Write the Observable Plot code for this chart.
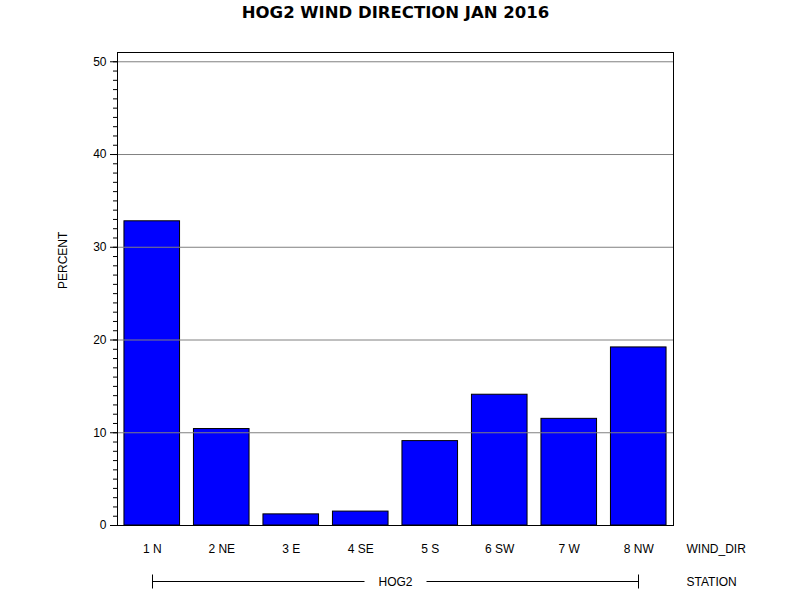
<!DOCTYPE html>
<html>
<head>
<meta charset="utf-8">
<script src="https://cdn.jsdelivr.net/npm/d3@7"></script>
<script src="https://cdn.jsdelivr.net/npm/@observablehq/plot@0.6"></script>
<style>
  html, body { margin: 0; padding: 0; background: #fff; }
  #chart { width: 800px; height: 600px; }
</style>
</head>
<body>
<div id="chart"></div>
<script>
const title = "HOG2 WIND DIRECTION JAN 2016";
const windDir = ["1 N", "2 NE", "3 E", "4 SE", "5 S", "6 SW", "7 W", "8 NW"];
const percent = [32.8, 10.4, 1.2, 1.5, 9.1, 14.1, 11.5, 19.2];
const majorTicks = [0, 10, 20, 30, 40, 50];
const station = "HOG2";
const yLabel = "PERCENT";
const xLabel = "WIND_DIR";
const groupLabel = "STATION";

const data = windDir.map((d, i) => ({dir: d, pct: percent[i]}));
const minorTicks = d3.range(0, 51, 1);
const font = "'Liberation Sans', Arial, Helvetica, sans-serif";

// Station group line under the categories
function stationLine(index, scales, values, dimensions) {
  const ns = "http://www.w3.org/2000/svg";
  const g = document.createElementNS(ns, "g");
  const bw = scales.x.bandwidth ? scales.x.bandwidth() : 0;
  const x1 = Math.round(scales.x(windDir[0]) + bw / 2) + 0.5;
  const x2 = Math.round(scales.x(windDir[windDir.length - 1]) + bw / 2) + 0.5;
  const y = dimensions.height - dimensions.marginBottom + 56.5;
  const mid = (x1 + x2) / 2;
  const gap = 31;
  const segs = [[x1, y, mid - gap, y], [mid + gap, y, x2, y], [x1, y - 7, x1, y + 7], [x2, y - 7, x2, y + 7]];
  for (const [a, b, c, d] of segs) {
    const l = document.createElementNS(ns, "line");
    l.setAttribute("x1", a); l.setAttribute("y1", b);
    l.setAttribute("x2", c); l.setAttribute("y2", d);
    l.setAttribute("stroke", "black");
    l.setAttribute("stroke-width", 1);
    g.appendChild(l);
  }
  const t = document.createElementNS(ns, "text");
  t.setAttribute("x", mid);
  t.setAttribute("y", y);
  t.setAttribute("dy", "0.35em");
  t.setAttribute("text-anchor", "middle");
  t.setAttribute("font-size", "12px");
  t.setAttribute("fill", "black");
  t.textContent = station;
  g.appendChild(t);
  return g;
}

const chart = Plot.plot({
  width: 800,
  height: 600,
  marginLeft: 117,
  marginRight: 127,
  marginTop: 52,
  marginBottom: 75,
  style: {fontFamily: font, fontSize: "12px", color: "black", background: "white"},
  x: {type: "band", domain: windDir, paddingInner: 0.2, paddingOuter: 0.1, round: false, axis: null},
  y: {domain: [0, 51], axis: null},
  marks: [
    Plot.barY(data, {x: "dir", y: "pct", fill: "#0000ff", stroke: "black", strokeWidth: 1}),
    Plot.gridY(majorTicks.filter(d => d > 0), {stroke: "#808080", strokeOpacity: 1, strokeWidth: 1}),
    Plot.frame({stroke: "black", strokeWidth: 1}),
    Plot.axisY(minorTicks, {tickSize: 4, text: null, label: null, stroke: "black", strokeWidth: 1}),
    Plot.axisY(majorTicks, {tickSize: 7, tickPadding: 4, fontSize: 12, stroke: "black", fill: "black", label: null}),
    Plot.text(windDir, {x: d => d, frameAnchor: "bottom", dy: 24, lineAnchor: "middle", fontSize: 12, fill: "black"}),
    Plot.text([xLabel], {frameAnchor: "bottom-right", dx: 13, dy: 24, textAnchor: "start", lineAnchor: "middle", fontSize: 12, fill: "black"}),
    Plot.text([groupLabel], {frameAnchor: "bottom-right", dx: 13, dy: 56.5, textAnchor: "start", lineAnchor: "middle", fontSize: 12, fill: "black"}),
    Plot.text([yLabel], {frameAnchor: "left", dx: -54.5, rotate: -90, lineAnchor: "middle", fontSize: 12, fill: "black"}),
    Plot.text([title], {frameAnchor: "top", dy: -40, lineAnchor: "middle", fontSize: 16.5, fontWeight: "bold", fill: "black", fontFamily: "'DejaVu Sans', Verdana, sans-serif"}),
    stationLine
  ]
});
document.getElementById("chart").appendChild(chart);
</script>
</body>
</html>
